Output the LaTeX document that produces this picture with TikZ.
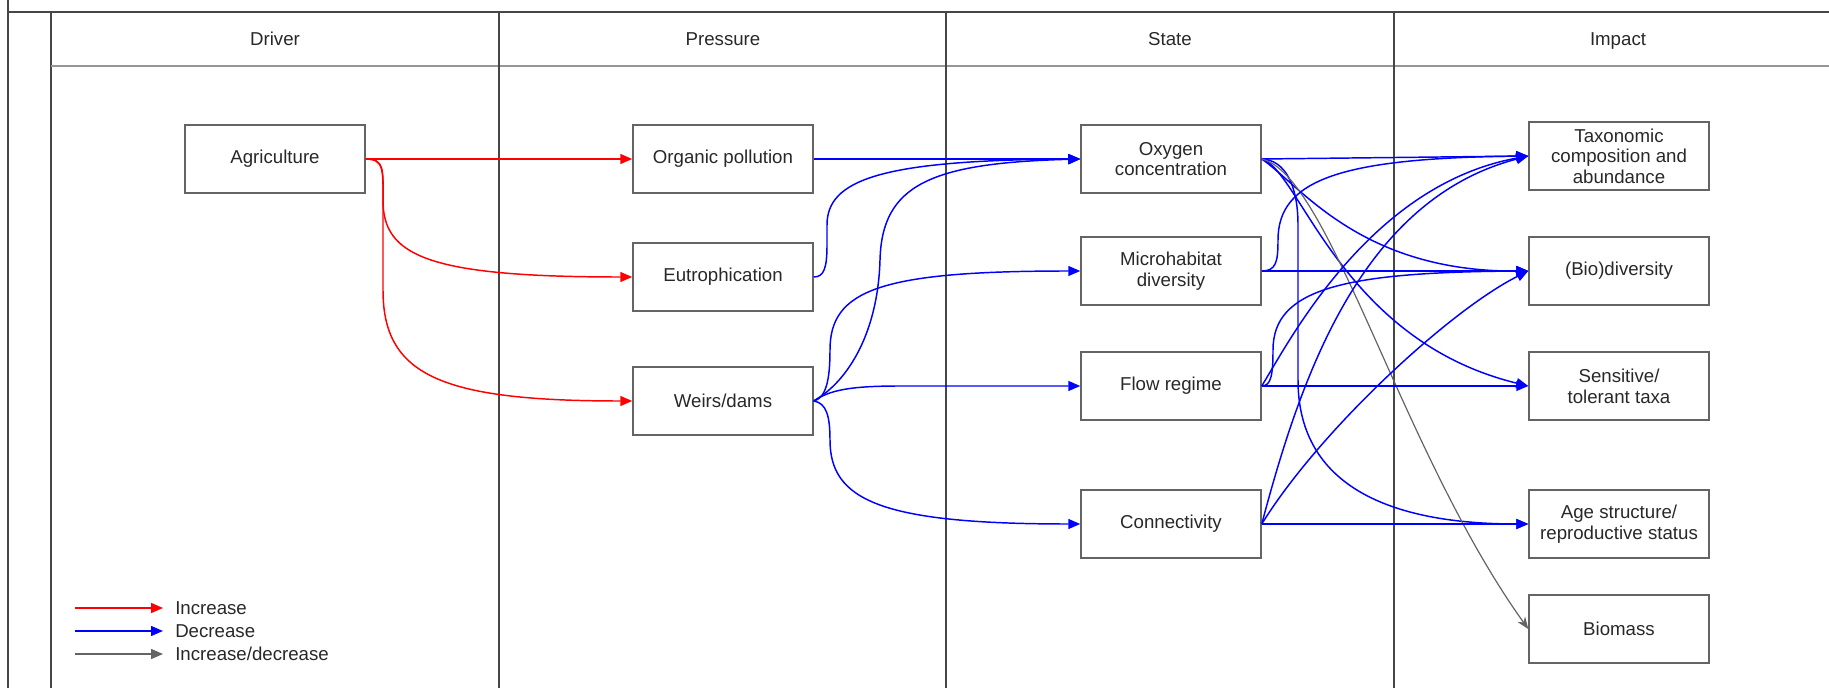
\documentclass[tikz,border=0pt]{standalone}
\usepackage{fontspec}
\setmainfont{Liberation Sans}
\usetikzlibrary{arrows.meta}
\definecolor{boxline}{RGB}{100,100,100}
\definecolor{txt}{RGB}{40,40,40}
\definecolor{lane}{RGB}{70,70,70}
\definecolor{hdr}{RGB}{150,150,150}
\definecolor{inc}{RGB}{255,0,0}
\definecolor{dec}{RGB}{0,0,255}
\definecolor{both}{RGB}{100,100,100}
\begin{document}
\begin{tikzpicture}[x=0.75pt,y=-0.75pt,
  box/.style={draw=boxline, line width=1.1pt, minimum width=135pt, minimum height=51pt,
    inner sep=0pt, align=center, text=txt, font=\fontsize{14}{15.5}\selectfont},
  lbl/.style={text=txt, font=\fontsize{14}{16}\selectfont, inner sep=0pt},
  lanestyle/.style={draw=lane, line width=1.5pt},
  incr/.style={draw=inc, line width=1.1pt, -{Triangle[length=9pt,width=7.5pt]}},
  decr/.style={draw=dec, line width=1.1pt, -{Triangle[length=9pt,width=7.5pt]}},
  bothw/.style={draw=both, line width=0.9pt, -{Stealth[length=9pt,width=7pt]}}]
\useasboundingbox (0,0) rectangle (1829,688);
% pool frame
\draw[lanestyle] (8,0) -- (8,688);
\draw[lanestyle] (8,12) -- (1829,12);
\draw[lanestyle] (51,12) -- (51,688);
\draw[draw=hdr, line width=1.2pt] (51,66) -- (1829,66);
\draw[lanestyle] (499,12) -- (499,688);
\draw[lanestyle] (946,12) -- (946,688);
\draw[lanestyle] (1394,12) -- (1394,688);
% headers
\node[lbl, anchor=base] (hdriver) at (275,46) {Driver};
\node[lbl, anchor=base] (hpress) at (723,46) {Pressure};
\node[lbl, anchor=base] (hstate) at (1170,46) {State};
\node[lbl, anchor=base] (himpact) at (1618,46) {Impact};
% nodes
\node[box] (agri) at (275,159) {Agriculture};
\node[box] (org) at (723,159) {Organic pollution};
\node[box] (eut) at (723,277) {Eutrophication};
\node[box] (weir) at (723,401) {Weirs/dams};
\node[box] (oxy) at (1171,159) {Oxygen\\concentration};
\node[box] (micro) at (1171,271) {Microhabitat\\diversity};
\node[box] (flow) at (1171,386) {Flow regime};
\node[box] (conn) at (1171,524) {Connectivity};
\node[box] (taxo) at (1619,156) {Taxonomic\\composition and\\abundance};
\node[box] (bio) at (1619,271) {(Bio)diversity};
\node[box] (sens) at (1619,386) {Sensitive/\\tolerant taxa};
\node[box] (age) at (1619,524) {Age structure/\\reproductive status};
\node[box] (biom) at (1619,629) {Biomass};
% driver -> pressure
\draw[incr] (agri.east) -- (org.west);
\draw[incr] (agri.east) .. controls (385,159) and (383,170) .. (383,200)
  .. controls (383,255) and (425,277) .. (eut.west);
\draw[incr] (agri.east) .. controls (385,159) and (383,170) .. (383,210) -- (383,290)
  .. controls (383,375) and (440,401) .. (weir.west);
% pressure -> state
\draw[decr] (org.east) -- (oxy.west);
\draw[decr] (eut.east) .. controls (824,277) and (827,268) .. (827,245) -- (827,225)
  .. controls (827,180) and (880,160) .. (oxy.west);
\draw[decr] (weir.east) .. controls (850,380) and (878,330) .. (880,260)
  .. controls (882,185) and (930,163) .. (oxy.west);
\draw[decr] (weir.east) .. controls (826,398) and (830,380) .. (830,350)
  .. controls (830,290) and (880,271) .. (micro.west);
\draw[decr] (weir.east) .. controls (830,390) and (850,386) .. (900,386) -- (flow.west);
\draw[decr] (weir.east) .. controls (826,403) and (830,415) .. (830,440)
  .. controls (830,500) and (880,524) .. (conn.west);
% state -> impact
\draw[decr] (oxy.east) -- (taxo.west);
\draw[decr] (oxy.east) .. controls (1300,185) and (1360,272) .. (bio.west);
\draw[decr] (oxy.east) .. controls (1300,170) and (1340,340) .. (sens.west);
\draw[decr] (oxy.east) .. controls (1285,160) and (1298,185) .. (1298,225) -- (1298,380)
  .. controls (1298,480) and (1380,524) .. (age.west);
\draw[bothw] (oxy.east) .. controls (1330,175) and (1400,450) .. (biom.west);
\draw[decr] (micro.east) -- (bio.west);
\draw[decr] (micro.east) .. controls (1276,271) and (1278,262) .. (1278,240)
  .. controls (1278,180) and (1340,158) .. (taxo.west);
\draw[decr] (flow.east) -- (sens.west);
\draw[decr] (flow.east) .. controls (1271,386) and (1273,375) .. (1273,350)
  .. controls (1273,290) and (1340,272) .. (bio.west);
\draw[decr] (flow.east) .. controls (1290,340) and (1370,185) .. (taxo.west);
\draw[decr] (conn.east) -- (age.west);
\draw[decr] (conn.east) .. controls (1300,380) and (1360,200) .. (taxo.west);
\draw[decr] (conn.east) .. controls (1320,430) and (1450,310) .. (bio.west);
% legend
\coordinate (l1a) at (75,608); \coordinate (l1b) at (163,608);
\coordinate (l2a) at (75,631); \coordinate (l2b) at (163,631);
\coordinate (l3a) at (75,654); \coordinate (l3b) at (163,654);
\draw[incr] (l1a) -- (l1b);
\draw[decr] (l2a) -- (l2b);
\draw[draw=both, line width=1.1pt, -{Triangle[length=9pt,width=7.5pt]}] (l3a) -- (l3b);
\node[lbl, anchor=west] (leg1) at (175,608) {Increase};
\node[lbl, anchor=west] (leg2) at (175,631) {Decrease};
\node[lbl, anchor=west] (leg3) at (175,654) {Increase/decrease};
\end{tikzpicture}
\end{document}
